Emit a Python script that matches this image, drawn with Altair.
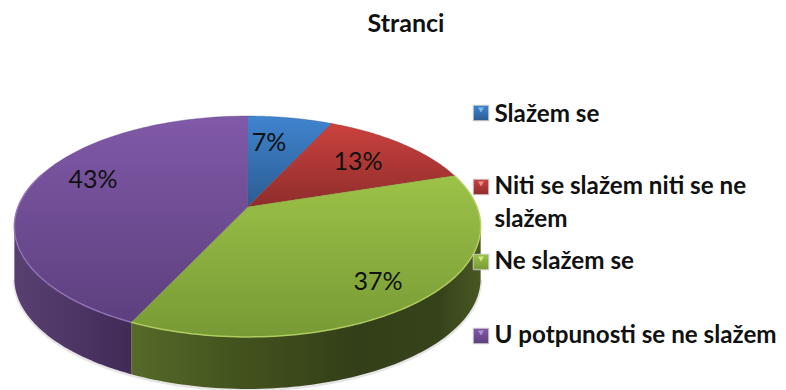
import numpy as np
import pandas as pd
import altair as alt

# ---- values ----
categories = ["Slažem se", "Niti se slažem niti se ne\nslažem", "Ne slažem se", "U potpunosti se ne slažem"]
percent = [7, 13, 37, 43]
title_text = "Stranci"

# ---- styles ----
top_colors = [("#4084CF", "#2B5C92"), ("#CB413E", "#8E2D2B"), ("#9CC248", "#789A35"), ("#8059A8", "#5D3F7E")]
rim_colors = ["#5C93D2", "#D96461", "#B7D565", "#9478B8"]
glint_colors = ["#8FC0EE", "#EE9A98", "#D9EE8E", "#B79AD8"]
side_stops = [None, None,
              [(0, "#566A2A"), (0.3, "#43531E"), (0.65, "#333F18"), (0.88, "#36431A"), (1, "#485822")],
              [(0, "#584072"), (0.6, "#4B3363"), (1, "#412A55")]]
legend_y = [113, 187, 262, 336]
legend_base = [122, 194, 269, 343]
label_xy = [(269, 143), (358, 162), (378, 282), (93, 180)]

# ---- perspective layout in page pixels ----
PAGE_W, PAGE_H = 786, 390
CX, CY = 247.5, 207.0
K, A, B, DEPTH = 0.1765, 229.5, 107.0, 52.0
FONT = "Lato"


def project(t):
    u, v = np.sin(t), np.cos(t)
    den = 1 + K * v
    return CX + A * u / den, CY - B * v / den


edges = np.cumsum([0] + percent) / sum(percent) * 2 * np.pi
t_r, t_l = np.arccos(-K), 2 * np.pi - np.arccos(-K)

xs = alt.Scale(domain=[8, PAGE_W - 8], nice=False, zero=False)
ys = alt.Scale(domain=[PAGE_H, 8], nice=False, zero=False)


def enc(ch):
    return ch.encode(
        x=alt.X("x:Q", scale=xs, axis=None),
        y=alt.Y("y:Q", scale=ys, axis=None),
        order="i:Q",
    )


def grad(stops, vertical=True):
    return alt.LinearGradient(
        gradient="linear", x1=0, y1=0, x2=0 if vertical else 1, y2=1 if vertical else 0,
        stops=[alt.GradientStop(offset=o, color=c) for o, c in stops],
    )


def frame(x, y):
    return pd.DataFrame({"x": x, "y": y, "i": np.arange(len(x))})


layers = []

# soft shadow under the pie
ts = np.linspace(t_r, t_l, 160)
sx, sy = project(ts)
layers.append(enc(alt.Chart(frame(sx, sy + DEPTH + 1)).mark_line(stroke="#000000", strokeWidth=3, opacity=0.10)))

# sides
for a, b, st in zip(edges[:-1], edges[1:], side_stops):
    lo, hi = max(a, t_r), min(b, t_l)
    if lo >= hi or st is None:
        continue
    ts = np.linspace(lo, hi, 80)
    x, y = project(ts)
    px = np.r_[x, x[::-1], x[0]]
    py = np.r_[y, y[::-1] + DEPTH, y[0]]
    layers.append(enc(alt.Chart(frame(px, py)).mark_line(fill=grad(st, vertical=False), strokeWidth=0)))

# top faces
for a, b, (c1, c2) in zip(edges[:-1], edges[1:], top_colors):
    ts = np.linspace(a, b, 100)
    x, y = project(ts)
    px = np.r_[CX, x, CX]
    py = np.r_[CY, y, CY]
    layers.append(enc(alt.Chart(frame(px, py)).mark_line(fill=grad([(0, c1), (1, c2)]), stroke=c2, strokeWidth=0.4)))

# rim highlight
for a, b, c in zip(edges[:-1], edges[1:], rim_colors):
    lo, hi = max(a, t_r - 0.5), min(b, t_l + 0.5)
    if lo >= hi:
        continue
    x, y = project(np.linspace(lo, hi, 100))
    layers.append(enc(alt.Chart(frame(x, y)).mark_line(stroke=c, strokeWidth=1.5, opacity=0.85)))

# percent labels
lab = pd.DataFrame({"x": [p[0] for p in label_xy], "y": [p[1] for p in label_xy],
                    "t": [f"{v}%" for v in percent]})
layers.append(alt.Chart(lab).mark_text(font=FONT, fontSize=25, color="#111111", baseline="middle").encode(
    x=alt.X("x:Q", scale=xs, axis=None), y=alt.Y("y:Q", scale=ys, axis=None), text="t:N"))

# legend
for cat, y0, base, (c1, c2), g in zip(categories, legend_y, legend_base, top_colors, glint_colors):
    one = pd.DataFrame({"x": [481], "y": [y0], "gy": [y0 - 3], "tx": [494.5], "by": [base], "t": [cat]})
    layers.append(alt.Chart(one).mark_square(size=240, fill=grad([(0, c1), (1, c2)]), stroke="#C8C8C8",
                                             strokeWidth=1, opacity=1).encode(
        x=alt.X("x:Q", scale=xs, axis=None), y=alt.Y("y:Q", scale=ys, axis=None)))
    layers.append(alt.Chart(one).mark_point(shape="triangle-down", size=36, filled=True, color=g, opacity=0.9).encode(
        x=alt.X("x:Q", scale=xs, axis=None), y=alt.Y("gy:Q", scale=ys, axis=None)))
    layers.append(alt.Chart(one).mark_text(font=FONT, fontWeight="bold", fontSize=24.2, color="#111111",
                                           align="left", baseline="alphabetic", lineBreak="\n",
                                           lineHeight=33).encode(
        x=alt.X("tx:Q", scale=xs, axis=None), y=alt.Y("by:Q", scale=ys, axis=None), text="t:N"))

# title
ttl = pd.DataFrame({"x": [406], "y": [31.5], "t": [title_text]})
layers.append(alt.Chart(ttl).mark_text(font=FONT, fontWeight="bold", fontSize=25, color="#111111",
                                       baseline="alphabetic").encode(
    x=alt.X("x:Q", scale=xs, axis=None), y=alt.Y("y:Q", scale=ys, axis=None), text="t:N"))

chart = alt.layer(*layers).properties(
    width=PAGE_W - 16, height=PAGE_H - 8, padding=0, background="white",
    autosize=alt.AutoSizeParams(type="none"),
).configure_view(stroke=None)

chart.save("out.html", embed_options={"renderer": "svg", "actions": False})
